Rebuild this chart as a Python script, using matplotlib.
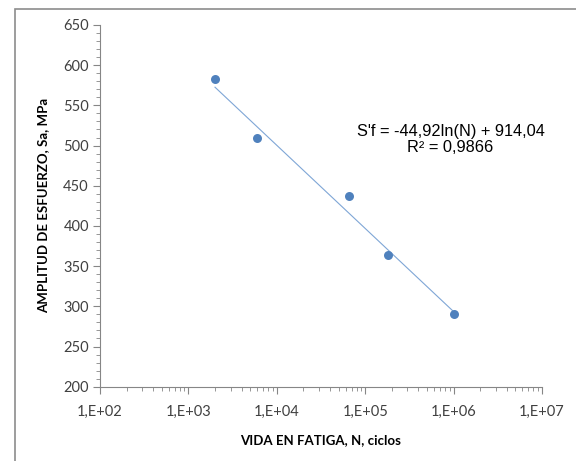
import matplotlib
matplotlib.use("Agg")
import matplotlib.pyplot as plt
import numpy as np
from matplotlib.patches import Rectangle
from matplotlib.ticker import FixedLocator, LogLocator, NullFormatter, MultipleLocator

# Ensayos de fatiga: ciclos a la falla y amplitud de esfuerzo
ciclos = [2000, 6000, 65000, 180000, 1000000]
amplitud = [583, 510, 437, 364, 291]

# Curva de tendencia logarítmica S'f = a*ln(N) + b
a_coef = -44.92
b_coef = 914.04
r2 = 0.9866

x_ticks = [1e2, 1e3, 1e4, 1e5, 1e6, 1e7]
x_labels = ["1,E+02", "1,E+03", "1,E+04", "1,E+05", "1,E+06", "1,E+07"]

azul = "#4F81BD"
gris = "#868686"

fig = plt.figure(figsize=(5.76, 4.61), dpi=100)
# marco del área del gráfico
fig.patches.append(Rectangle((15 / 576, -0.1), 1.2, 1 - 9 / 461 + 0.1,
                             transform=fig.transFigure, fill=False,
                             edgecolor="#8c8c8c", linewidth=1.2))

ax = fig.add_axes([100 / 576, 1 - 386.7 / 461, 442 / 576, 361.7 / 461])

ax.scatter(ciclos, amplitud, s=42, color=azul, zorder=3, linewidths=0)

nn = np.logspace(np.log10(min(ciclos)), np.log10(max(ciclos)), 100)
ax.plot(nn, a_coef * np.log(nn) + b_coef, color="#7fa6d6", linewidth=0.8, zorder=2)

ax.set_xscale("log")
ax.set_xlim(1e2, 1e7)
ax.set_ylim(200, 650)

ax.xaxis.set_major_locator(FixedLocator(x_ticks))
ax.set_xticklabels(x_labels)
ax.xaxis.set_minor_locator(LogLocator(base=10, subs=np.arange(2, 10)))
ax.xaxis.set_minor_formatter(NullFormatter())
ax.yaxis.set_major_locator(MultipleLocator(50))
ax.yaxis.set_minor_locator(MultipleLocator(10))

for lado in ["top", "right"]:
    ax.spines[lado].set_visible(False)
for lado in ["left", "bottom"]:
    ax.spines[lado].set_color(gris)
    ax.spines[lado].set_linewidth(0.8)

ax.tick_params(which="major", length=5, width=0.8, color=gris, labelcolor="#404040",
               labelsize=10.5, pad=3)
ax.tick_params(which="minor", length=3, width=0.6, color=gris)
ax.tick_params(axis="x", which="major", pad=8)
for lbl in ax.get_xticklabels() + ax.get_yticklabels():
    lbl.set_fontfamily("Lato")

ax.set_xlabel("VIDA EN FATIGA, N, ciclos", fontsize=9.5, fontweight="bold",
              family="Lato", labelpad=11)
ax.set_ylabel("AMPLITUD DE ESFUERZO, Sa, MPa", fontsize=9.5, fontweight="bold",
              family="Lato", labelpad=10)

ax.text(0.793, 0.683, "S'f = -44,92ln(N) + 914,04\nR² = 0,9866", transform=ax.transAxes,
        ha="center", va="center", fontsize=11.8, family="Liberation Sans",
        linespacing=1.08)

fig.savefig("out.png", dpi=100)
